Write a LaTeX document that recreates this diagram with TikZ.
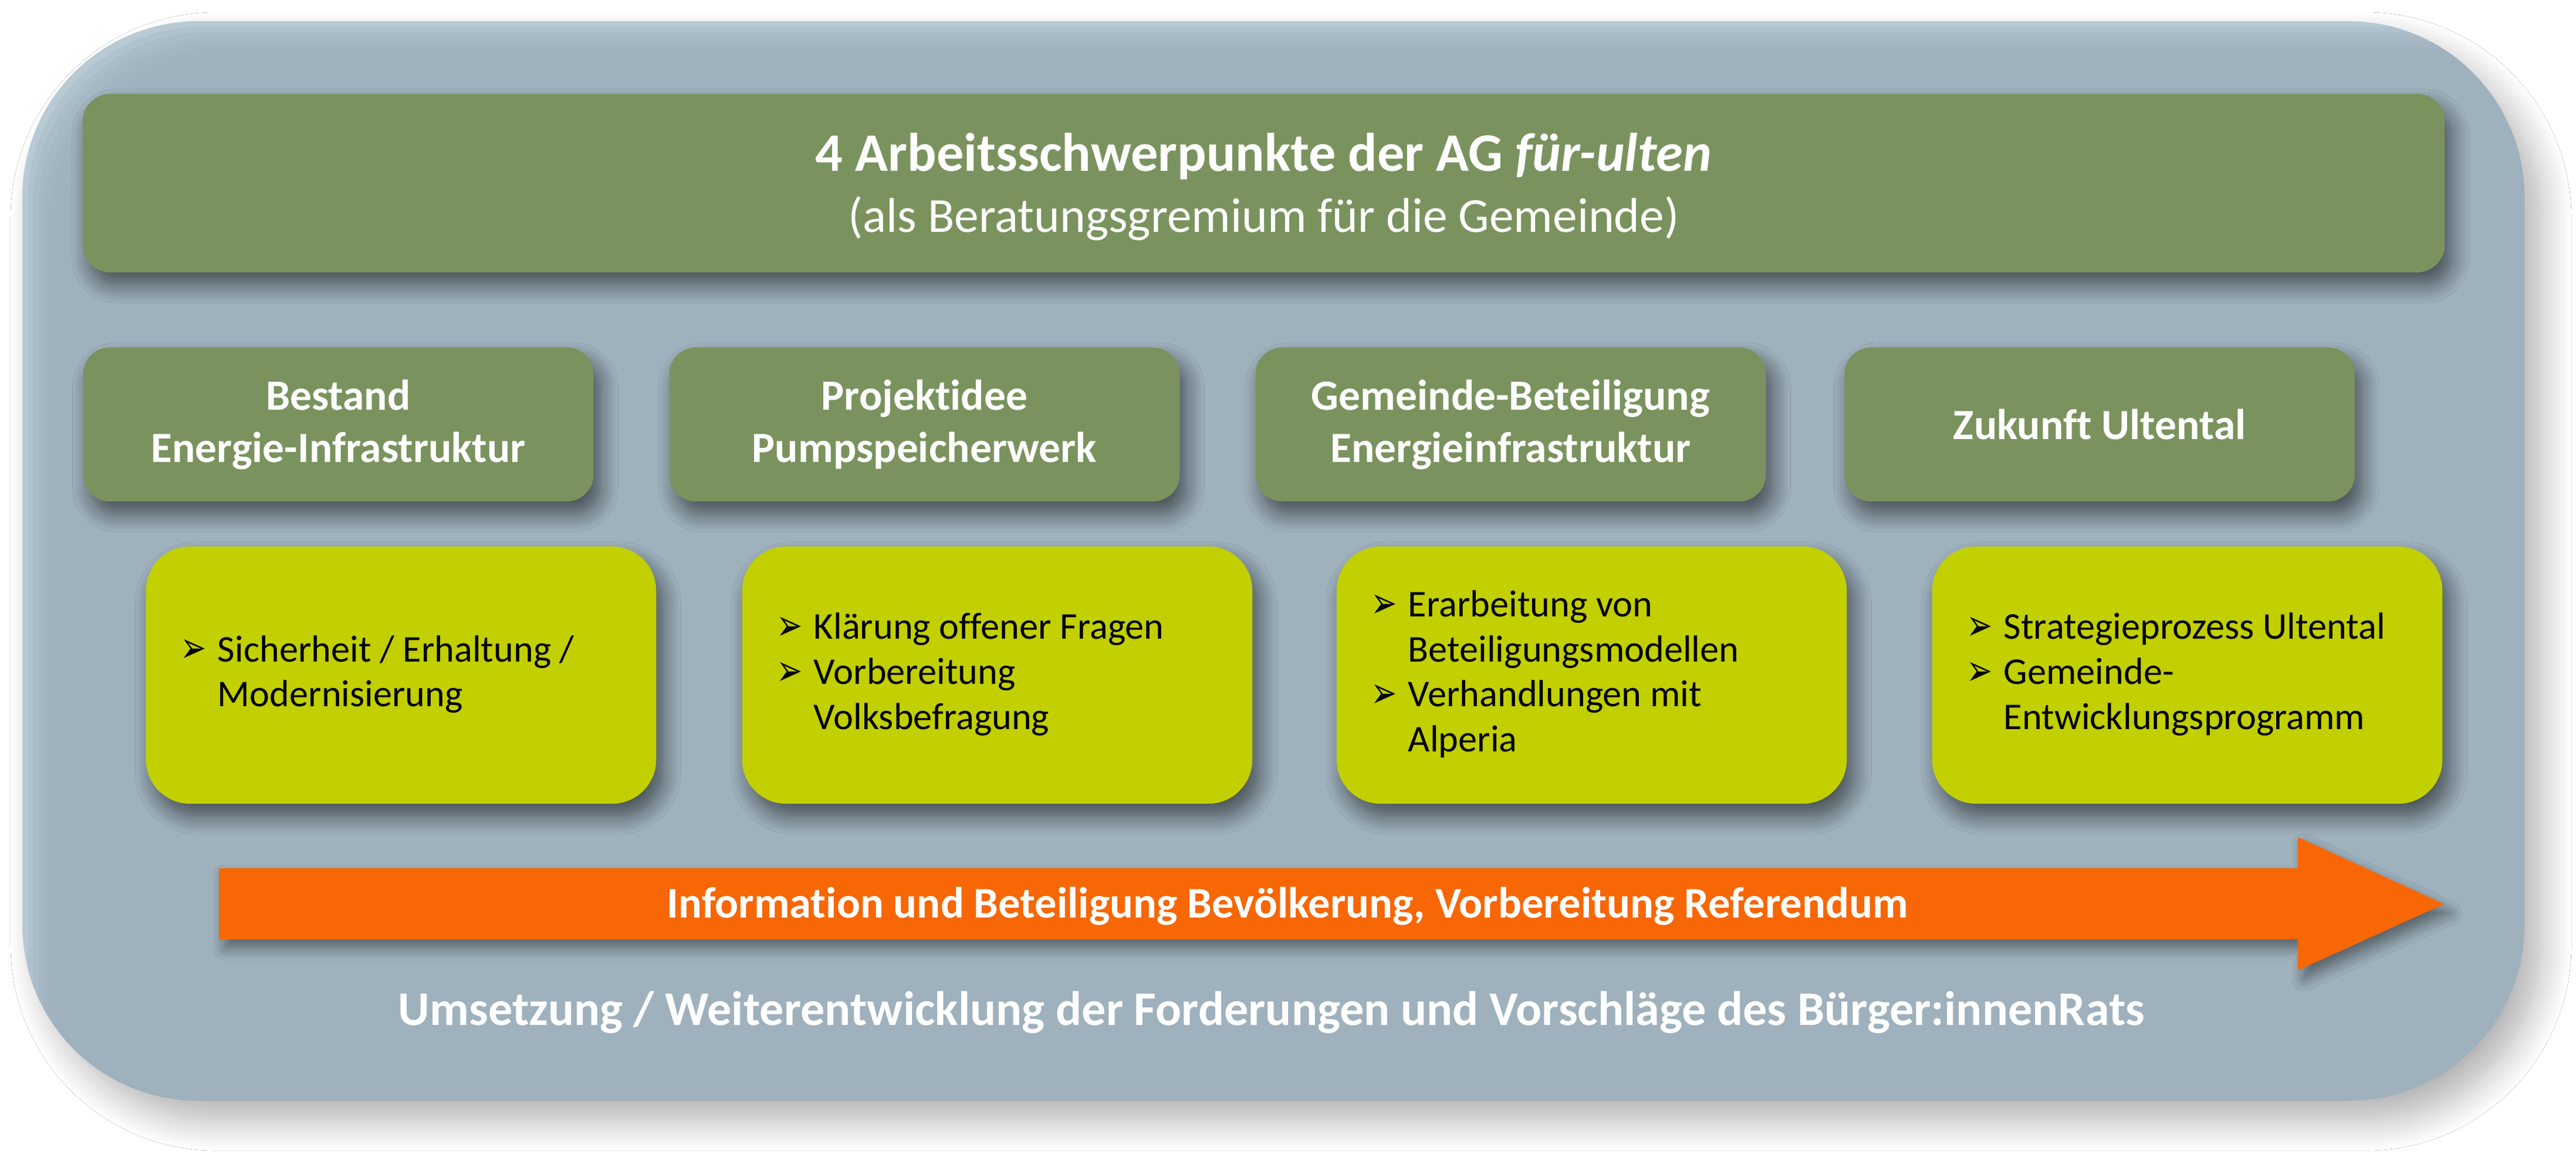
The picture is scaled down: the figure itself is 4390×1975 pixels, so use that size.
\documentclass[tikz,border=0pt]{standalone}
\usepackage{fontspec}
\setmainfont{Carlito}[Ligatures={NoCommon}]
\newfontfamily\dejavu{DejaVu Sans}
\usetikzlibrary{shadows.blur}
\definecolor{outerbg}{HTML}{9DB1BD}
\definecolor{outerlight}{HTML}{B8CBD5}
\definecolor{hgreen}{HTML}{7A935E}
\definecolor{ygreen}{HTML}{C2CF00}
\definecolor{orng}{HTML}{F76706}
\newcommand{\mybul}{\raisebox{-0.5pt}{\scalebox{0.72}[1]{\dejavu\fontsize{21}{21}\selectfont ➢}}}
\begin{document}
\begin{tikzpicture}[x=0.01cm,y=-0.01cm,
  boxshadow/.style={blur shadow={shadow xshift=0.12cm, shadow yshift=-0.22cm, shadow opacity=55, shadow blur radius=0.3cm, shadow blur steps=12}},
  topbox/.style={fill=hgreen, rounded corners=0.47cm, minimum width=40.23cm, minimum height=3.04cm, text=white, align=center, inner sep=0pt, boxshadow},
  hdrbox/.style={fill=hgreen, rounded corners=0.45cm, minimum width=8.69cm, minimum height=2.62cm, text=white, align=center, inner sep=0pt, font=\bfseries\fontsize{20.9}{25.3}\selectfont, boxshadow},
  ybox/.style={fill=ygreen, rounded corners=0.75cm, minimum width=8.69cm, minimum height=4.38cm, inner sep=0pt, boxshadow},
  ytext/.style={anchor=west, inner sep=0pt, font=\fontsize{18.3}{21.8}\selectfont, text=black},
  whitebold/.style={text=white, font=\bfseries\fontsize{21.2}{25}\selectfont, inner sep=0pt}
]
\useasboundingbox (0,0) rectangle (4390,1975);
\fill[white] (0,0) rectangle (4390,1975);
% outer panel
\path[fill=outerlight, rounded corners=3cm, blur shadow={shadow xshift=0.3cm, shadow yshift=-0.35cm, shadow opacity=30, shadow blur radius=0.5cm, shadow blur steps=14}] (38,36) rectangle (4302,1875);
\begin{scope}
  \clip[rounded corners=3cm] (38,36) rectangle (4302,1875);
  \foreach \k in {1,...,7}
    \fill[outerbg, opacity=0.32, rounded corners=3cm] (38+9*\k,36+9*\k) rectangle (4600,2200);
\end{scope}
% title box
\node[topbox] (top) at (2153.5,312) {};
\node[text=white, align=center, inner sep=0pt] (toptext) at (2153.5,318) {{\bfseries\fontsize{26.3}{30}\selectfont 4 Arbeitsschwerpunkte der AG \textit{für-ulten}}\\[7pt]{\fontsize{23.7}{28}\selectfont (als Beratungsgremium für die Gemeinde)}};
% header boxes
\node[hdrbox] (h1) at (576.5,723) {Bestand\\Energie-Infrastruktur};
\node[hdrbox] (h2) at (1575.5,723) {Projektidee\\Pumpspeicherwerk};
\node[hdrbox] (h3) at (2574.5,723) {Gemeinde-Beteiligung\\Energieinfrastruktur};
\node[hdrbox] (h4) at (3578,723) {Zukunft Ultental};
% yellow boxes
\node[ybox] (y1) at (683.5,1150) {};
\node[ybox] (y2) at (1699.5,1150) {};
\node[ybox] (y3) at (2712.5,1150) {};
\node[ybox] (y4) at (3727.5,1150) {};
\node[ytext] (t1) at ([xshift=0.59cm]y1.west) {\begin{tabular}{@{}p{0.63cm}@{}l@{}}\mybul & Sicherheit / Erhaltung /\\ & Modernisierung\end{tabular}};
\node[ytext] (t2) at ([xshift=0.59cm]y2.west) {\begin{tabular}{@{}p{0.63cm}@{}l@{}}\mybul & Klärung offener Fragen\\ \mybul & Vorbereitung\\ & Volksbefragung\end{tabular}};
\node[ytext] (t3) at ([xshift=0.59cm]y3.west) {\begin{tabular}{@{}p{0.63cm}@{}l@{}}\mybul & Erarbeitung von\\ & Beteiligungsmodellen\\ \mybul & Verhandlungen mit\\ & Alperia\end{tabular}};
\node[ytext] (t4) at ([xshift=0.59cm]y4.west) {\begin{tabular}{@{}p{0.63cm}@{}l@{}}\mybul & Strategieprozess Ultental\\ \mybul & Gemeinde-\\ & Entwicklungsprogramm\end{tabular}};
% arrow
\fill[orng, blur shadow={shadow xshift=0.1cm, shadow yshift=-0.15cm, shadow opacity=45, shadow blur radius=0.2cm, shadow blur steps=10}] (373,1479) -- (3916,1479) -- (3916,1426) -- (4165,1540) -- (3916,1653) -- (3916,1600) -- (373,1600) -- cycle;
\node[whitebold, anchor=base] (arrtext) at (2194,1563) {Information und Beteiligung Bevölkerung, Vorbereitung Referendum};
% bottom text
\node[text=white, font=\bfseries\fontsize{23.4}{27}\selectfont, inner sep=0pt, anchor=base] (bottom) at (2167,1746) {Umsetzung / Weiterentwicklung der Forderungen und Vorschläge des Bürger:innenRats};
\end{tikzpicture}
\end{document}
